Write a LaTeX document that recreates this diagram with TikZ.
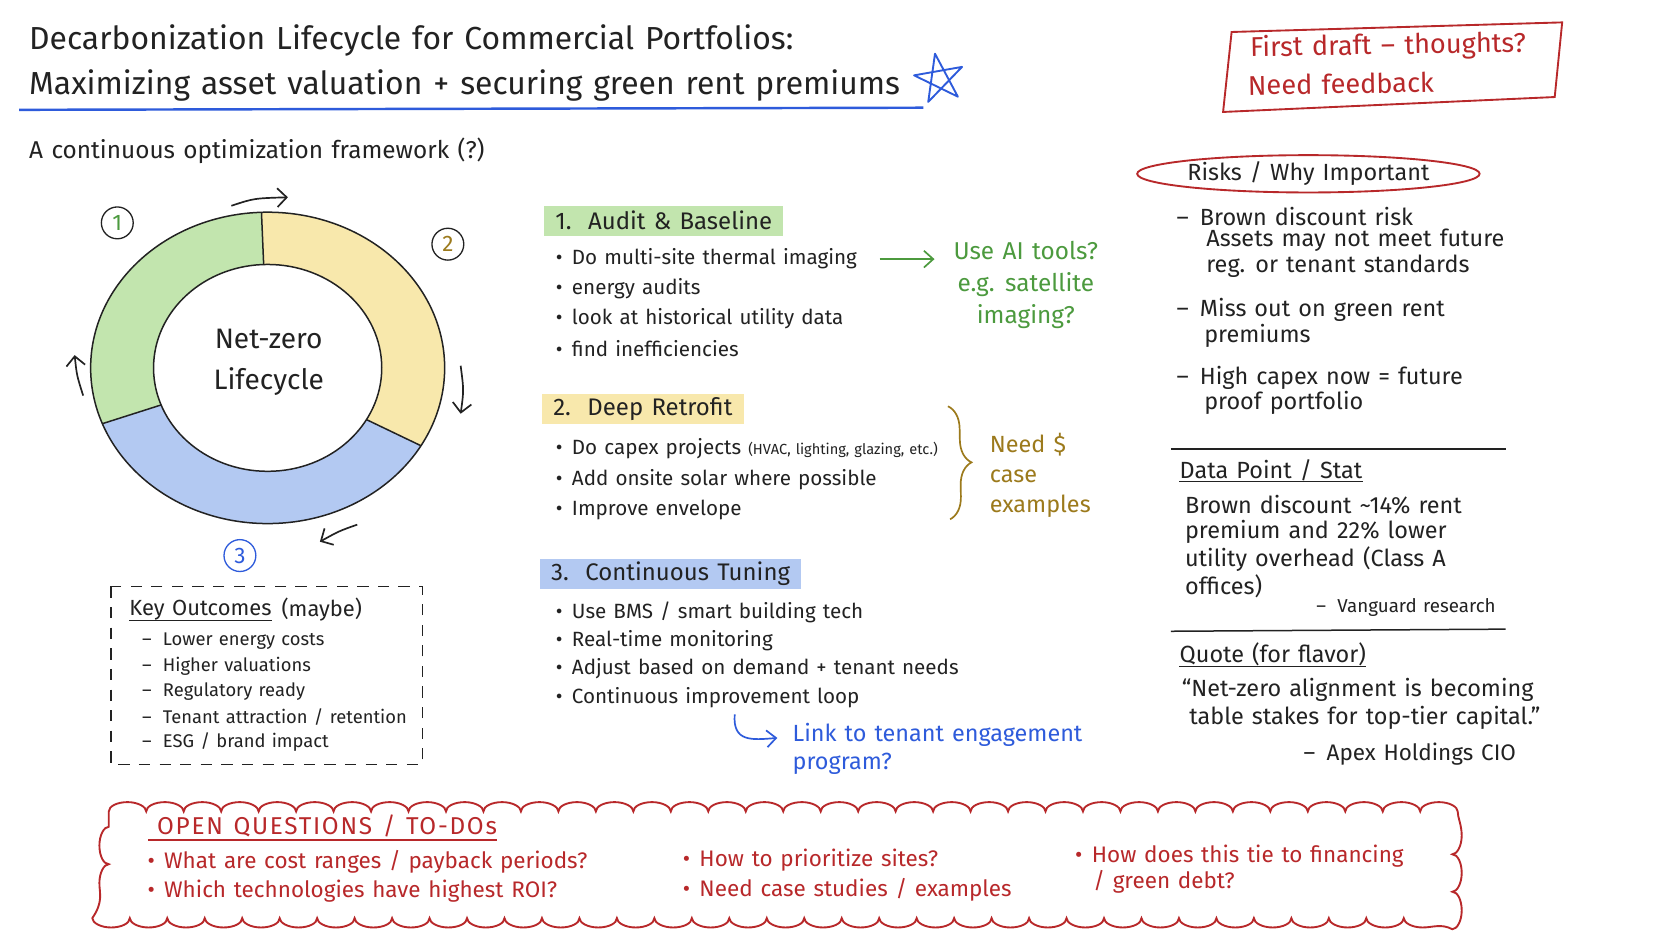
\documentclass[tikz,border=0pt]{standalone}
\usepackage{fontspec}
\setmainfont{Fira Sans}[WordSpace=1.3]
\usetikzlibrary{arrows.meta,calc,positioning,shapes.geometric,decorations.pathreplacing,decorations.pathmorphing}

\definecolor{ink}{HTML}{222222}
\definecolor{redink}{HTML}{B8282A}
\definecolor{greenink}{HTML}{4C9A3E}
\definecolor{oliveink}{HTML}{9C7A1C}
\definecolor{blueink}{HTML}{2E5BDB}
\definecolor{greenfill}{HTML}{C2E5AE}
\definecolor{yellowfill}{HTML}{F8E8AC}
\definecolor{bluefill}{HTML}{B3C9F2}

\newcommand{\bul}{\textbullet\hspace{5pt}}
\newcommand{\dsh}{–\hspace{6pt}}

\tikzset{
  txt/.style={anchor=west, inner sep=0pt, text=ink},
  item/.style={txt, font=\fontsize{11}{13}\selectfont},
  note/.style={txt, font=\fontsize{12.5}{15}\selectfont},
  todoitem/.style={txt, text=redink, font=\fontsize{12}{14}\selectfont},
  header/.style={anchor=west, inner xsep=6pt, inner ysep=0pt, minimum height=16pt,
    font=\fontsize{12.8}{15}\selectfont, text=ink},
  numcirc/.style={circle, draw=ink, line width=0.7pt, minimum size=17pt, inner sep=0pt,
    font=\fontsize{12}{12}\selectfont},
  cyclearrow/.style={ink, line width=0.9pt, -{Straight Barb[length=5pt,width=10pt]}},
  rule/.style={ink, line width=0.8pt}
}

\begin{document}
\begin{tikzpicture}[x=0.02cm, y=-0.02cm]
\fill[white] (0,0) rectangle (1568,882);
\useasboundingbox (0,0) rectangle (1568,882);

% Title
\node[txt, font=\fontsize{17}{20}\selectfont] (title1) at (27,38) {Decarbonization Lifecycle for Commercial Portfolios:};
\node[txt, font=\fontsize{17}{20}\selectfont] (title2) at (27,80) {Maximizing asset valuation + securing green rent premiums};
\draw[blueink, line width=1.3pt] (18,103) -- (866,101);
\coordinate (star) at (881,74);
\draw[blueink, line width=1pt, line join=round] ($(star)+(-100:24)$) -- ($(star)+(44:24)$)
  -- ($(star)+(188:24)$) -- ($(star)+(332:24)$) -- ($(star)+(116:24)$) -- cycle;
\node[txt, font=\fontsize{13}{15}\selectfont] (subtitle) at (27,141) {A continuous optimization framework (?)};

% Draft note
\draw[redink, line width=1pt] (1155,30) -- (1465,21) -- (1458,91) -- (1147,105) -- cycle;
\node[txt, text=redink, font=\fontsize{14.5}{17}\selectfont, rotate=1] (draft1) at (1172,46) {First draft – thoughts?};
\node[txt, text=redink, font=\fontsize{14.5}{17}\selectfont, rotate=1] (draft2) at (1170,80) {Need feedback};

% Lifecycle ring
\coordinate (ringc) at (251,345);
\fill[greenfill] ($(ringc)+(-92:166 and 146)$) arc[start angle=-92, end angle=-201, x radius=166, y radius=146]
  -- ($(ringc)+(-201:107 and 97)$) arc[start angle=-201, end angle=-92, x radius=107, y radius=97] -- cycle;
\fill[yellowfill] ($(ringc)+(-92:166 and 146)$) arc[start angle=-92, end angle=30, x radius=166, y radius=146]
  -- ($(ringc)+(30:107 and 97)$) arc[start angle=30, end angle=-92, x radius=107, y radius=97] -- cycle;
\fill[bluefill] ($(ringc)+(30:166 and 146)$) arc[start angle=30, end angle=159, x radius=166, y radius=146]
  -- ($(ringc)+(159:107 and 97)$) arc[start angle=159, end angle=30, x radius=107, y radius=97] -- cycle;
\draw[ink, line width=0.8pt] (ringc) ellipse[x radius=166, y radius=146];
\draw[ink, line width=0.8pt] (ringc) ellipse[x radius=107, y radius=97];
\foreach \a in {-92,30,159}
  \draw[ink, line width=0.8pt] ($(ringc)+(\a:107 and 97)$) -- ($(ringc)+(\a:166 and 146)$);
\node[align=center, inner sep=0pt, text=ink, font=\fontsize{15}{22}\selectfont] (ringlabel) at (252,340) {Net-zero\\Lifecycle};

\node[numcirc, text=greenink] (n1) at (110,209) {1};
\node[numcirc, text=oliveink] (n2) at (420,229) {2};
\node[numcirc, draw=blueink, text=blueink] (n3) at (225,521) {3};

% Cycle arrows
\coordinate (topA) at (217,193);  \coordinate (topB) at (270,185);
\coordinate (rgtA) at (432,343);  \coordinate (rgtB) at (432,388);
\coordinate (botA) at (335,492);  \coordinate (botB) at (300,508);
\coordinate (lftA) at (78,371);   \coordinate (lftB) at (70,333);
\draw[cyclearrow] (topA) .. controls (238,186) .. (topB);
\draw[cyclearrow] (rgtA) .. controls (435,366) .. (rgtB);
\draw[cyclearrow] (botA) .. controls (318,498) .. (botB);
\draw[cyclearrow] (lftA) .. controls (72,352) .. (lftB);

% Key outcomes
\draw[ink, line width=0.8pt, dash pattern=on 6pt off 5pt] (104,550) rectangle (396,717);
\node[txt, font=\fontsize{11.7}{14}\selectfont] (kokey) at (121,572) {Key Outcomes};
\node[txt, font=\fontsize{11.7}{14}\selectfont, right=5pt of kokey] (komaybe) {(maybe)};
\draw[ink, line width=0.8pt] (kokey.south west) -- (kokey.south east);
\foreach \t [count=\i] in {Lower energy costs, Higher valuations, Regulatory ready,
    Tenant attraction / retention, ESG / brand impact}
  \node[txt, font=\fontsize{9.8}{12}\selectfont] (ko\i) at (133,{601+23.7*(\i-1)}) {\dsh\t};

% Stage 1
\node[header, fill=greenfill] (sec1) at (510,207) {1.\ \ Audit \& Baseline};
\foreach \t [count=\i] in {Do multi-site thermal imaging, energy audits,
    look at historical utility data, find inefficiencies}
  \node[item] (sa\i) at (521,{243+28*(\i-1)}) {\bul\t};
\node[align=center, inner sep=0pt, text=greenink, font=\fontsize{13}{17}\selectfont] (aitools) at (962,267)
  {Use AI tools?\\e.g. satellite\\imaging?};
\draw[greenink, line width=0.9pt, -{Straight Barb[length=5pt,width=9pt]}, shorten <=12pt, shorten >=10pt]
  (sa1.east) -- (sa1.east -| aitools.west);

% Stage 2
\node[header, fill=yellowfill] (sec2) at (508,384) {2.\ \ Deep Retrofit};
\foreach \t [count=\i] in {{Do capex projects {\fontsize{7.8}{10}\selectfont(HVAC, lighting, glazing, etc.)}},
    Add onsite solar where possible, Improve envelope}
  \node[item] (sb\i) at (521,{421+28.5*(\i-1)}) {\bul\t};
\coordinate (braceT) at (889,381);
\coordinate (braceB) at (891,487);
\draw[oliveink, line width=0.9pt, decorate, decoration={brace, amplitude=12pt}] (braceT) -- (braceB);
\node[txt, align=left, text=oliveink, font=\fontsize{12.5}{16}\selectfont] (needcase) at (928,446)
  {Need \$\\case\\examples};

% Stage 3
\node[header, fill=bluefill] (sec3) at (506,538) {3.\ \ Continuous Tuning};
\foreach \t [count=\i] in {Use BMS / smart building tech, Real-time monitoring,
    Adjust based on demand + tenant needs, Continuous improvement loop}
  \node[item] (sc\i) at (521,{574+26.7*(\i-1)}) {\bul\t};
\node[txt, align=left, text=blueink, font=\fontsize{12.5}{15}\selectfont] (linktxt) at (743,702)
  {Link to tenant engagement\\program?};
\coordinate (loopout) at (689,670);
\draw[blueink, line width=0.9pt, -{Straight Barb[length=5pt,width=9pt]}]
  (loopout) .. controls (687,696) and (705,694) .. ($(linktxt.west)+(-14,-10)$);

% Risks
\node[ellipse, draw=redink, line width=1pt, minimum width=5.9cm, minimum height=0.7cm, inner sep=0pt,
  text=ink, font=\fontsize{12.5}{15}\selectfont] (risks) at (1227,163) {Risks / Why Important};
\node[note] (r1) at (1103,203) {\dsh Brown discount risk};
\node[note] (r2) at (1131,225) {Assets may not meet future};
\node[note] (r3) at (1131,250) {reg. or tenant standards};
\node[note] (r4) at (1103,291) {\dsh Miss out on green rent};
\node[note] (r5) at (1129,315) {premiums};
\node[note] (r6) at (1103,354) {\dsh High capex now = future};
\node[note] (r7) at (1129,378) {proof portfolio};
\draw[rule] (1098,421) -- (1412,421);

% Data point
\node[note] (dphead) at (1106,441) {Data Point / Stat};
\draw[rule] (dphead.south west) -- (dphead.south east);
\foreach \t [count=\i] in {Brown discount \textasciitilde 14\% rent, premium and 22\% lower,
    utility overhead (Class A, offices)}
  \node[note] (dp\i) at (1111,{473+25.5*(\i-1)}) {\t};
\node[txt, anchor=east, font=\fontsize{10}{12}\selectfont] (dpsrc) at (1403,570) {\dsh Vanguard research};
\draw[rule] (1098,592) -- (1412,590);

% Quote
\node[note] (qhead) at (1106,614) {Quote (for flavor)};
\draw[rule] (qhead.south west) -- (qhead.south east);
\node[note] (q1) at (1108,647) {“Net-zero alignment is becoming};
\node[note] (q2) at (1115,673) {table stakes for top-tier capital.”};
\node[txt, anchor=east, font=\fontsize{12}{14}\selectfont] (qsrc) at (1422,707) {\dsh Apex Holdings CIO};

% Open questions cloud
\draw[redink, line width=1pt, decorate, decoration={bumps, segment length=40pt, amplitude=5pt}]
  (102,761) -- (1362,761) -- (1362,861) -- (102,861) -- cycle;
\node[txt, text=redink, font=\fontsize{13}{15}\selectfont\addfontfeature{LetterSpace=7}] (todo) at (147,775) {OPEN QUESTIONS / TO-DOs};
\draw[redink, line width=0.9pt] (todo.south west) ++(-8,2) -- ($(todo.south east)+(0,2)$);
\node[todoitem] (oq1) at (138,808) {\bul What are cost ranges / payback periods?};
\node[todoitem] (oq2) at (138,836) {\bul Which technologies have highest ROI?};
\node[todoitem] (oq3) at (640,807) {\bul How to prioritize sites?};
\node[todoitem] (oq4) at (640,834) {\bul Need case studies / examples};
\node[todoitem] (oq5) at (1008,803) {\bul How does this tie to financing};
\node[todoitem] (oq6) at (1025,827) {/ green debt?};

\end{tikzpicture}
\end{document}
